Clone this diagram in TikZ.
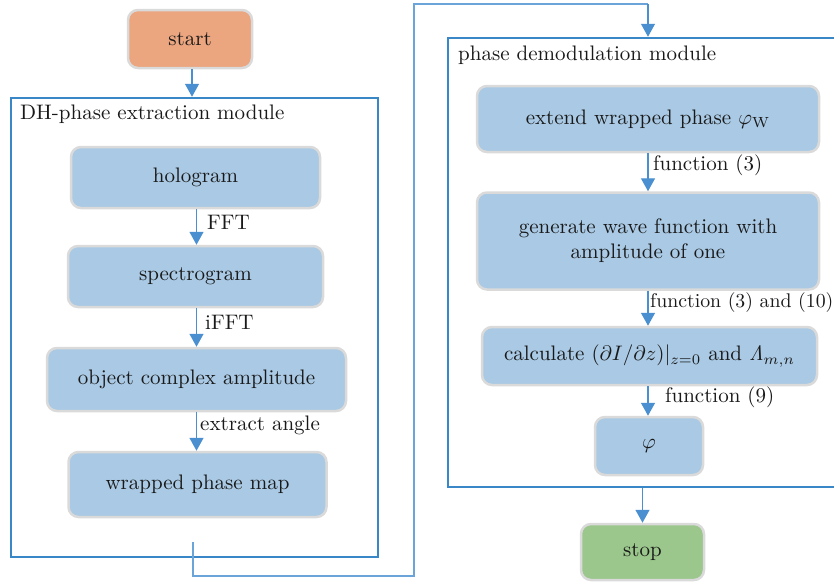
\documentclass[tikz,border=0pt]{standalone}
\usetikzlibrary{arrows.meta}
\definecolor{boxblue}{HTML}{A9C9E4}
\definecolor{boxedge}{HTML}{DADADA}
\definecolor{startorange}{HTML}{EBA57F}
\definecolor{stopgreen}{HTML}{9BC78C}
\definecolor{modblue}{HTML}{3A87C8}
\definecolor{arrblue}{HTML}{4A90D0}
\definecolor{linkblue}{HTML}{6AA4D8}
% text set at the 10pt design size and enlarged
\newcommand{\tx}[1]{\scalebox{2.1}{#1}}
\tikzset{
  stepbox/.style={draw=boxedge, line width=2.5pt, rounded corners=10pt, fill=boxblue,
    inner sep=0pt, align=center, text=black!90},
  modbox/.style={draw=modblue, line width=2.5pt, inner sep=0pt},
  flow/.style={draw=arrblue, line width=1.4pt, -{Triangle[width=14pt,length=13pt]}},
  link/.style={draw=linkblue, line width=1.2pt},
  lbl/.style={anchor=west, inner sep=0pt, text=black!90},
  title/.style={anchor=west, inner sep=0pt, text=black!90}
}
\begin{document}
\begin{tikzpicture}[x=1pt,y=-1pt]
\useasboundingbox (0,0) rectangle (834,582);
\clip (0,0) rectangle (834,582);

% module frames
\node[modbox, minimum width=367pt, minimum height=459pt] (dh) at (194.5,327.5) {};
\node[modbox, minimum width=392pt, minimum height=449pt] (pd) at (644,262.5) {};
\node[title] (dht) at (20,114) {\tx{DH-phase extraction module}};
\node[title] (pdt) at (458,55) {\tx{phase demodulation module}};

% start / stop
\node[stepbox, fill=startorange, minimum width=124pt, minimum height=58pt] (start) at (190,39) {\tx{start}};
\node[stepbox, fill=stopgreen, minimum width=123pt, minimum height=56pt] (stop) at (642.5,552) {\tx{stop}};

% DH-phase extraction steps
\node[stepbox, minimum width=249pt, minimum height=61pt] (holo) at (195.5,177.5) {\tx{hologram}};
\node[stepbox, minimum width=255pt, minimum height=61pt] (spec) at (195.5,276.5) {\tx{spectrogram}};
\node[stepbox, minimum width=299pt, minimum height=63pt] (obj) at (196.5,379.5) {\tx{object complex amplitude}};
\node[stepbox, minimum width=258pt, minimum height=65pt] (wpm) at (197.5,484.5) {\tx{wrapped phase map}};

% phase demodulation steps
\node[stepbox, minimum width=342pt, minimum height=66pt] (ext) at (648,119) {\tx{extend wrapped phase $\varphi_{\mathrm{W}}$}};
\node[stepbox, minimum width=342pt, minimum height=97pt] (gen) at (648,241) {\tx{generate wave function with}\\[5pt]\tx{amplitude of one}};
\node[stepbox, minimum width=335pt, minimum height=58pt] (calc) at (649.5,356) {\tx{calculate $(\partial I/\partial z)|_{z=0}$ and $\mathit{\Lambda}_{m,n}$}};
\node[stepbox, minimum width=108pt, minimum height=58pt] (phi) at (649,446) {\tx{$\varphi$}};

% arrows inside the left module
\coordinate (a1) at (196.5,0);
\draw[flow] (a1 |- holo.south) -- (a1 |- spec.north);
\draw[flow] (a1 |- spec.south) -- (a1 |- obj.north);
\draw[flow] (a1 |- obj.south) -- (a1 |- wpm.north);
\node[lbl] (l1) at (207,222) {\tx{FFT}};
\node[lbl] (l2) at (205,322) {\tx{iFFT}};
\node[lbl] (l3) at (200,425) {\tx{extract angle}};

% arrows inside the right module
\coordinate (a2) at (648,0);
\draw[flow] (a2 |- ext.south) -- (a2 |- gen.north);
\draw[flow] (a2 |- gen.south) -- (a2 |- calc.north);
\draw[flow] (a2 |- calc.south) -- (a2 |- phi.north);
\node[lbl] (l4) at (653,165) {\tx{function (3)}};
\node[lbl] (l5) at (650,303) {\scalebox{1.98}{function (3) and (10)}};
\node[lbl] (l6) at (665,397) {\tx{function (9)}};

% start into left module, right module into stop
\draw[flow] (192,0 |- start.south) -- (192,0 |- dh.north);
\draw[flow] (642.5,0 |- pd.south) -- (stop.north);

% link from the left module to the right module
\coordinate (k0) at (193,542);
\coordinate (k1) at (193,576);
\coordinate (k2) at (414,576);
\coordinate (k3) at (414,4);
\coordinate (k4) at (648,4);
\draw[link] (k0) -- (k1) -- (k2) -- (k3) -- (k4);
\draw[flow, line width=1.2pt] (k4) -- (k4 |- pd.north);
\end{tikzpicture}
\end{document}
